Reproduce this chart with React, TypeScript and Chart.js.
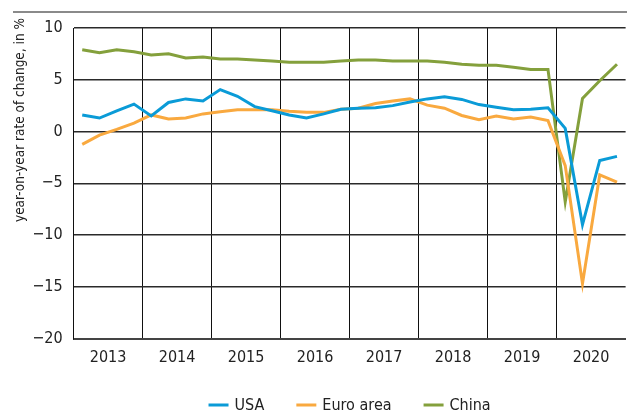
import { useEffect, useRef } from 'react';
import { Chart, registerables } from 'chart.js';

Chart.register(...registerables);

const years = ['2013', '2014', '2015', '2016', '2017', '2018', '2019', '2020'];
const quarterNames = ['Q1', 'Q2', 'Q3', 'Q4'];
const quarters = years.flatMap((y) => quarterNames.map((q) => `${y} ${q}`));

const usa = [
  1.6, 1.3, 2.0, 2.65, 1.5, 2.8, 3.15, 2.95,
  4.05, 3.4, 2.4, 2.0, 1.6, 1.3, 1.7, 2.15,
  2.25, 2.3, 2.5, 2.85, 3.15, 3.35, 3.1, 2.6,
  2.35, 2.1, 2.15, 2.3, 0.3, -9.0, -2.8, -2.4,
];
const euroArea = [
  -1.25, -0.35, 0.2, 0.8, 1.6, 1.2, 1.3, 1.7,
  1.9, 2.1, 2.1, 2.1, 1.95, 1.85, 1.85, 2.15,
  2.25, 2.7, 2.95, 3.15, 2.55, 2.25, 1.55, 1.15,
  1.5, 1.2, 1.4, 1.05, -3.3, -14.7, -4.2, -4.9,
];
const china = [
  7.9, 7.6, 7.9, 7.7, 7.4, 7.5, 7.1, 7.2,
  7.0, 7.0, 6.9, 6.8, 6.7, 6.7, 6.7, 6.8,
  6.9, 6.9, 6.8, 6.8, 6.8, 6.7, 6.5, 6.4,
  6.4, 6.2, 6.0, 6.0, -6.8, 3.2, 4.9, 6.5,
];

const seriesNames = ['USA', 'Euro area', 'China'];
const seriesColors = ['#0a9bd7', '#f9a93f', '#84a03c'];
const yTitle = 'year-on-year rate of change, in %';
const FONT = "'Liberation Sans Narrow', 'DejaVu Sans Condensed', Arial, sans-serif";

const decor = {
  id: 'decor',
  beforeDraw(chart: any) {
    const ctx = chart.ctx;
    ctx.save();
    ctx.strokeStyle = '#8a8a8a';
    ctx.lineWidth = 2;
    ctx.beginPath();
    ctx.moveTo(13, 12);
    ctx.lineTo(chart.width, 12);
    ctx.stroke();
    ctx.restore();
  },
  afterDraw(chart: any) {
    const ctx = chart.ctx;
    const area = chart.chartArea;
    ctx.save();
    ctx.font = `13.5px ${FONT}`;
    ctx.fillStyle = '#222';
    ctx.translate(20, 18);
    ctx.rotate(-Math.PI / 2);
    ctx.textAlign = 'right';
    ctx.textBaseline = 'middle';
    ctx.fillText(yTitle, 0, 0);
    ctx.restore();

    ctx.save();
    ctx.font = `16px ${FONT}`;
    const lineLen = 20;
    const gapText = 6;
    const gapItem = 32;
    const items = chart.data.datasets.map((d: any) => ({
      text: d.label,
      color: d.borderColor,
      w: lineLen + gapText + ctx.measureText(d.label).width,
    }));
    const total = items.reduce((s: number, it: any) => s + it.w, 0) + gapItem * (items.length - 1);
    let x = (area.left + area.right) / 2 - total / 2;
    const y = 405;
    ctx.textBaseline = 'middle';
    ctx.textAlign = 'left';
    for (const it of items) {
      ctx.strokeStyle = it.color;
      ctx.lineWidth = 3;
      ctx.beginPath();
      ctx.moveTo(x, y);
      ctx.lineTo(x + lineLen, y);
      ctx.stroke();
      ctx.fillStyle = '#222';
      ctx.fillText(it.text, x + lineLen + gapText, y + 1);
      x += it.w + gapItem;
    }
    ctx.restore();
  },
};

export default function App() {
  const ref = useRef<HTMLCanvasElement | null>(null);

  useEffect(() => {
    document.body.style.margin = '0';
    const canvas = ref.current;
    if (!canvas) return;
    const values = [usa, euroArea, china];
    const chart = new Chart(canvas, {
      type: 'line',
      data: {
        labels: quarters,
        datasets: seriesNames.map((name, i) => ({
          label: name,
          data: values[i],
          borderColor: seriesColors[i],
          backgroundColor: seriesColors[i],
          borderWidth: 3,
          pointRadius: 0,
          tension: 0,
          fill: false,
        })),
      },
      options: {
        responsive: false,
        animation: false,
        devicePixelRatio: 1,
        layout: { padding: { left: 0, right: 1, top: 28, bottom: 0 } },
        plugins: {
          legend: { display: false },
          tooltip: { enabled: false },
        },
        scales: {
          x: {
            type: 'category',
            offset: true,
            grid: {
              offset: true,
              drawTicks: false,
              color: (c: any) => (c.index % 4 === 0 ? '#111' : 'rgba(0,0,0,0)'),
              lineWidth: 1,
            },
            border: { color: '#444', width: 2 },
            ticks: {
              autoSkip: false,
              maxRotation: 0,
              minRotation: 0,
              padding: 10,
              labelOffset: 8.6,
              color: '#222',
              font: { family: FONT, size: 16 },
              callback: (_v: any, idx: number) => (idx % 4 === 1 ? years[Math.floor(idx / 4)] : ''),
            },
            afterFit: (s: any) => {
              s.height = 75.5;
            },
          },
          y: {
            min: -20,
            max: 10,
            grid: { color: '#2a2a2a', lineWidth: 1.5, drawTicks: false },
            border: { color: '#111', width: 1 },
            ticks: {
              stepSize: 5,
              padding: 11,
              color: '#222',
              font: { family: FONT, size: 16 },
              callback: (v: any) => String(v).replace('-', '\u2212'),
            },
            afterFit: (s: any) => {
              s.width = 73.6;
            },
          },
        },
      },
      plugins: [decor],
    });
    return () => chart.destroy();
  }, []);

  return <canvas ref={ref} width={627} height={414} style={{ display: 'block' }} />;
}
